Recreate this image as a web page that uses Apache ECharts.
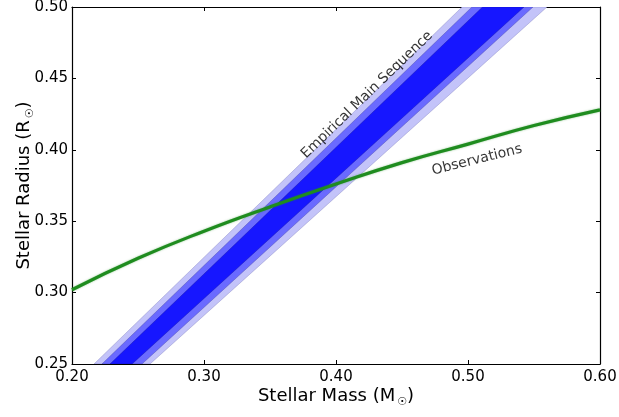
<!DOCTYPE html>
<html>
<head>
<meta charset="utf-8">
<script src="https://cdn.jsdelivr.net/npm/echarts@6/dist/echarts.min.js"></script>
<style>
html,body{margin:0;padding:0;background:#fff;}
#chart{width:619px;height:417px;}
</style>
</head>
<body>
<div id="chart"></div>
<script>
// Observations curve (stellar mass, stellar radius)
const obsMass   = [0.20, 0.25, 0.30, 0.35, 0.40, 0.45, 0.50, 0.55, 0.60];
const obsRadius = [0.302, 0.324, 0.343, 0.360, 0.376, 0.391, 0.404, 0.417, 0.428];

// Empirical main sequence bands: mass edges at given radii
const msRadius  = [0.25, 0.50];
const msLightLo = [0.2167, 0.4955];
const msLightHi = [0.2591, 0.5598];
const msMidLo   = [0.2227, 0.5030];
const msMidHi   = [0.2530, 0.5492];
const msDarkLo  = [0.2288, 0.5110];
const msDarkHi  = [0.2455, 0.5424];

// Annotation anchors (mass, radius)
const msLabelAt  = [0.4235, 0.4384];
const obsLabelAt = [0.5068, 0.3929];

const FONT = 'DejaVu Sans';

function bandSeries(lo, hi, color, edge) {
  return {
    type: 'custom',
    clip: true,
    silent: true,
    data: [[lo[0], msRadius[0]]],
    renderItem: function (params, api) {
      const pts = [];
      for (let i = 0; i < msRadius.length; i++) pts.push(api.coord([lo[i], msRadius[i]]));
      for (let i = msRadius.length - 1; i >= 0; i--) pts.push(api.coord([hi[i], msRadius[i]]));
      return {
        type: 'polygon',
        shape: { points: pts },
        style: { fill: color, stroke: edge, lineWidth: 0.7 }
      };
    }
  };
}

const chart = echarts.init(document.getElementById('chart'));

const axisCommon = {
  axisLine: { show: true, onZero: false, lineStyle: { color: '#000', width: 1.2 } },
  axisTick: { show: true, inside: true, length: 4, lineStyle: { color: '#000', width: 1 } },
  splitLine: { show: false },
  nameMoveOverlap: false
};

const option = {
  backgroundColor: '#fff',
  animation: false,
  textStyle: { fontFamily: FONT },
  grid: { left: 72, right: 19, top: 7, bottom: 53, containLabel: false, outerBoundsMode: 'none' },
  xAxis: [
    Object.assign({
      type: 'value', min: 0.2, max: 0.6, interval: 0.1, position: 'bottom',
      axisLabel: { color: '#000', fontSize: 15, fontFamily: FONT, margin: 6,
        formatter: v => v.toFixed(2) },
      name: '{a|Stellar Mass (M}{s|☉}{a|)}',
      nameLocation: 'middle', nameGap: 21,
      nameTextStyle: {
        rich: {
          a: { fontSize: 18, fontFamily: FONT, color: '#000' },
          s: { fontSize: 11, fontFamily: FONT, color: '#000', padding: [12, 0, 0, 2] }
        }
      }
    }, axisCommon),
    Object.assign({
      type: 'value', min: 0.2, max: 0.6, interval: 0.1, position: 'top',
      axisLabel: { show: false }
    }, axisCommon)
  ],
  yAxis: [
    Object.assign({
      type: 'value', min: 0.25, max: 0.5, interval: 0.05, position: 'left',
      axisLabel: { color: '#000', fontSize: 15, fontFamily: FONT, margin: 4,
        formatter: v => v.toFixed(2) },
      name: '{a|Stellar Radius (R}{s|☉}{a|)}',
      nameLocation: 'middle', nameGap: 36, nameRotate: 90,
      nameTextStyle: {
        rich: {
          a: { fontSize: 18, fontFamily: FONT, color: '#000' },
          s: { fontSize: 11, fontFamily: FONT, color: '#000', padding: [12, 0, 0, 2] }
        }
      }
    }, axisCommon),
    Object.assign({
      type: 'value', min: 0.25, max: 0.5, interval: 0.05, position: 'right',
      axisLabel: { show: false }
    }, axisCommon)
  ],
  series: [
    bandSeries(msLightLo, msLightHi, '#c3c3f9', 'rgba(120,120,190,0.55)'),
    bandSeries(msMidLo, msMidHi, '#6a6aff', 'rgba(70,70,170,0.6)'),
    bandSeries(msDarkLo, msDarkHi, '#1616ff', 'rgba(20,20,160,0.6)'),
    {
      type: 'line',
      data: obsMass.map((m, i) => [m, obsRadius[i]]),
      smooth: true,
      showSymbol: false,
      silent: true,
      lineStyle: { color: '#1f8c1f', width: 3.2, shadowColor: 'rgba(31,140,31,0.5)', shadowBlur: 2 },
      z: 5
    },
    {
      type: 'scatter',
      silent: true,
      symbolSize: 0,
      data: [msLabelAt],
      label: { show: true, position: 'inside', rotate: 44, formatter: 'Empirical Main Sequence',
        color: '#000', fontSize: 14, fontFamily: FONT },
      z: 6
    },
    {
      type: 'scatter',
      silent: true,
      symbolSize: 0,
      data: [obsLabelAt],
      label: { show: true, position: 'inside', rotate: 14, formatter: 'Observations',
        color: '#000', fontSize: 14, fontFamily: FONT },
      z: 6
    }
  ]
};

chart.setOption(option);
</script>
</body>
</html>
